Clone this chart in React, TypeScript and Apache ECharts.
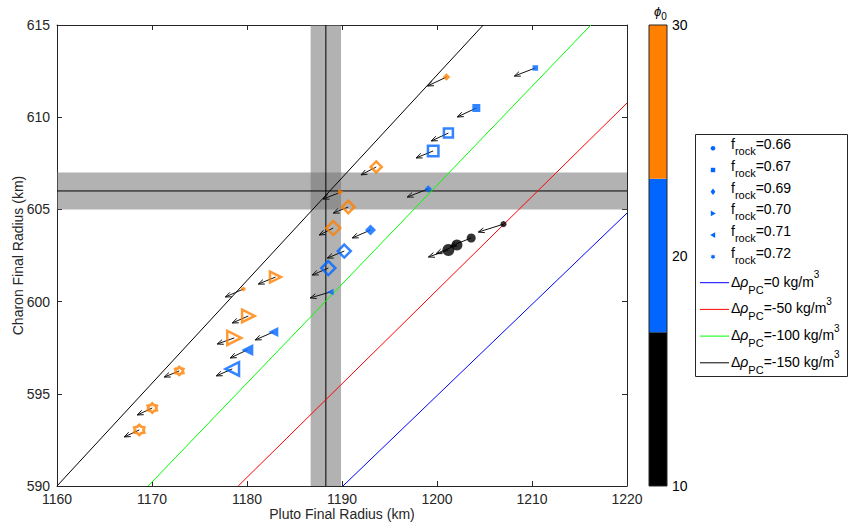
import React, { useEffect, useRef } from "react";
import * as echarts from "echarts";

// ---------- observations (Pluto / Charon radii with uncertainty) ----------
const plutoR = [1188.3];
const plutoErr = [1.6];
const charonR = [606.0];
const charonErr = [1.0];

// ---------- density-contrast lines ----------
const rhoLabels = ["0", "-50", "-100", "-150"];
const rhoColors = ["#0000ff", "#ff0000", "#00ff00", "#000000"];
const rhoX0 = [1190.1, 1179.08, 1169.6, 1160.0];
const rhoY0 = [590, 590, 590, 590];
const rhoX1 = [1220, 1220, 1216.2, 1204.87];
const rhoY1 = [604.8, 610.77, 615, 615];

// ---------- colour bar (phi0) ----------
const phiEdges = [10, 16.67, 23.33, 30];
const phiColors = ["#000000", "#0066ff", "#ff8000"];

// ---------- f_rock = 0.66 (circles) ----------
const c66X = [1207.0, 1203.6, 1202.1, 1201.2];
const c66Y = [604.2, 603.45, 603.07, 602.8];
const c66EX = [1204.35, 1201.4, 1199.9, 1199.1];
const c66EY = [603.77, 603.0, 602.6, 602.42];
const c66Phi = [10, 10, 10, 10];
const c66Size = [6, 9, 11, 12];
const c66Filled = [1, 1, 1, 1];

// ---------- f_rock = 0.67 (squares) ----------
const s67X = [1210.35, 1204.14, 1201.2, 1199.6];
const s67Y = [612.67, 610.5, 609.14, 608.17];
const s67EX = [1208.14, 1202.14, 1199.4, 1197.8];
const s67EY = [612.23, 610.01, 608.71, 607.79];
const s67Phi = [20, 20, 20, 20];
const s67Size = [5.5, 8, 9, 10.5];
const s67Filled = [1, 1, 0, 0];

// ---------- f_rock = 0.69 (diamonds) ----------
const d69X = [1201.0, 1193.6, 1190.66, 1189.08, 1199.08, 1193.0, 1190.24, 1188.56];
const d69Y = [612.18, 607.3, 605.13, 603.99, 606.11, 603.88, 602.74, 601.82];
const d69EX = [1199.0, 1192.0, 1189.08, 1187.6, 1196.87, 1191.08, 1188.45, 1186.87];
const d69EY = [611.69, 606.87, 604.8, 603.61, 605.67, 603.45, 602.36, 601.44];
const d69Phi = [30, 30, 30, 30, 20, 20, 20, 20];
const d69Size = [7.5, 11, 12.5, 14, 7.5, 11, 13, 14];
const d69Filled = [1, 0, 0, 0, 1, 1, 0, 0];

// ---------- f_rock = 0.70 (right triangles) ----------
const t70X = [1189.9, 1183.0, 1180.14, 1178.66];
const t70Y = [605.94, 601.33, 599.22, 598.03];
const t70EX = [1188.0, 1181.19, 1178.45, 1176.87];
const t70EY = [605.56, 600.95, 598.84, 597.7];
const t70Phi = [30, 30, 30, 30];
const t70Size = [6, 11, 12.5, 14];
const t70Filled = [1, 0, 0, 0];

// ---------- f_rock = 0.71 (left triangles) ----------
const t71X = [1188.77, 1182.77, 1180.03, 1178.45];
const t71Y = [600.52, 598.35, 597.38, 596.35];
const t71EX = [1186.66, 1180.87, 1178.24, 1176.77];
const t71EY = [600.2, 597.92, 596.94, 595.97];
const t71Phi = [20, 20, 20, 20];
const t71Size = [6.5, 10, 12, 13.5];
const t71Filled = [1, 1, 1, 0];

// ---------- f_rock = 0.72 (hexagrams) ----------
const h72X = [1179.61, 1172.87, 1170.03, 1168.66];
const h72Y = [600.68, 596.24, 594.23, 593.04];
const h72EX = [1177.72, 1171.29, 1168.45, 1167.08];
const h72EY = [600.25, 595.91, 593.85, 592.66];
const h72Phi = [30, 30, 30, 30];
const h72Size = [5, 8, 9, 10];
const h72Filled = [1, 0, 0, 0];

const frockLabels = ["0.66", "0.67", "0.69", "0.70", "0.71", "0.72"];

// ---------- helpers ----------
const FONT = "'Liberation Sans', Arial, Helvetica, sans-serif";
const AX = "#262626";

function starPts(r: number, cx: number, cy: number, inner = 1 / Math.sqrt(3)) {
  const pts: number[][] = [];
  for (let i = 0; i < 12; i++) {
    const a = ((-90 + i * 30) * Math.PI) / 180;
    const rr = i % 2 === 0 ? r : r * inner;
    pts.push([cx + rr * Math.cos(a), cy + rr * Math.sin(a)]);
  }
  return pts;
}
const hexPath =
  "path://M" + starPts(10, 10, 10, 0.72).map((p) => p.map((v) => v.toFixed(2)).join(",")).join("L") + "Z";
const rightTri = "path://M0,0L10,5L0,10Z";
const leftTri = "path://M10,0L0,5L10,10Z";

const groups = [
  { symbol: "circle", x: c66X, y: c66Y, ex: c66EX, ey: c66EY, phi: c66Phi, size: c66Size, filled: c66Filled, bw: 2.5 },
  { symbol: "rect", x: s67X, y: s67Y, ex: s67EX, ey: s67EY, phi: s67Phi, size: s67Size, filled: s67Filled, bw: 2.5 },
  { symbol: "diamond", x: d69X, y: d69Y, ex: d69EX, ey: d69EY, phi: d69Phi, size: d69Size, filled: d69Filled, bw: 2.5 },
  { symbol: rightTri, x: t70X, y: t70Y, ex: t70EX, ey: t70EY, phi: t70Phi, size: t70Size, filled: t70Filled, bw: 2.5 },
  { symbol: leftTri, x: t71X, y: t71Y, ex: t71EX, ey: t71EY, phi: t71Phi, size: t71Size, filled: t71Filled, bw: 2.5 },
  { symbol: hexPath, x: h72X, y: h72Y, ex: h72EX, ey: h72EY, phi: h72Phi, size: h72Size, filled: h72Filled, bw: 2.8 },
];

function phiColor(v: number) {
  for (let i = 0; i < phiColors.length; i++) if (v <= phiEdges[i + 1]) return phiColors[i];
  return phiColors[phiColors.length - 1];
}

let measureCtx: CanvasRenderingContext2D | null = null;
function tw(text: string, size: number, italic = false) {
  if (!measureCtx) measureCtx = document.createElement("canvas").getContext("2d");
  measureCtx!.font = `${italic ? "italic " : ""}${size}px ${FONT}`;
  return measureCtx!.measureText(text).width;
}
type Frag = { t: string; size: number; dy: number; italic?: boolean };
function frags(parts: Frag[], x0: number, cy: number) {
  let x = x0;
  const out: any[] = [];
  for (const p of parts) {
    out.push({
      type: "text",
      x,
      y: cy + p.dy,
      z: 100,
      style: {
        text: p.t,
        fontSize: p.size,
        fontFamily: FONT,
        fontStyle: p.italic ? "italic" : "normal",
        fill: "#000",
        align: "left",
        verticalAlign: "middle",
        textAlign: "left",
        textVerticalAlign: "middle",
      },
    });
    x += tw(p.t, p.size, p.italic);
  }
  return out;
}

function legendMarker(i: number, cx: number, cy: number) {
  const st = { fill: "#0066ff" };
  switch (i) {
    case 0:
      return { type: "circle", z: 100, shape: { cx, cy, r: 2.3 }, style: st };
    case 1:
      return { type: "rect", z: 100, shape: { x: cx - 2.2, y: cy - 2.2, width: 4.4, height: 4.4 }, style: st };
    case 2:
      return { type: "polygon", z: 100, shape: { points: [[cx, cy - 3.3], [cx + 2.4, cy], [cx, cy + 3.3], [cx - 2.4, cy]] }, style: st };
    case 3:
      return { type: "polygon", z: 100, shape: { points: [[cx - 2.2, cy - 2.8], [cx + 2.8, cy], [cx - 2.2, cy + 2.8]] }, style: st };
    case 4:
      return { type: "polygon", z: 100, shape: { points: [[cx + 2.2, cy - 2.8], [cx - 2.8, cy], [cx + 2.2, cy + 2.8]] }, style: st };
    default:
      return { type: "polygon", z: 100, shape: { points: starPts(2.6, cx, cy) }, style: st };
  }
}

function buildOption() {
  const axisCommon = {
    axisLine: { show: true, lineStyle: { color: AX, width: 1 } },
    axisTick: { show: true, inside: true, length: 5, lineStyle: { color: AX } },
    splitLine: { show: false },
  };
  const labelStyle = { fontSize: 14, color: AX, fontFamily: FONT };
  const plain = (v: number) => String(v);

  const series: any[] = [];

  // observational bands
  series.push({
    type: "custom",
    xAxisIndex: 0,
    yAxisIndex: 0,
    z: 1,
    silent: true,
    data: plutoR.map((v, i) => [v, charonR[i], plutoErr[i], charonErr[i]]),
    renderItem: (params: any, api: any) => {
      const cs = params.coordSys;
      const xc = api.value(0), yc = api.value(1), ex = api.value(2), ey = api.value(3);
      const pL = api.coord([xc - ex, yc - ey]);
      const pR = api.coord([xc + ex, yc + ey]);
      const pc = api.coord([xc, yc]);
      const fill = "rgba(115,115,115,0.55)";
      return {
        type: "group",
        children: [
          { type: "rect", shape: { x: pL[0], y: cs.y, width: pR[0] - pL[0], height: cs.height }, style: { fill } },
          { type: "rect", shape: { x: cs.x, y: pR[1], width: cs.width, height: pL[1] - pR[1] }, style: { fill } },
          { type: "line", shape: { x1: pc[0], y1: cs.y, x2: pc[0], y2: cs.y + cs.height }, style: { stroke: "#000", lineWidth: 1 } },
          { type: "line", shape: { x1: cs.x, y1: pc[1], x2: cs.x + cs.width, y2: pc[1] }, style: { stroke: "#000", lineWidth: 1 } },
        ],
      };
    },
  });

  // density lines
  rhoLabels.forEach((lbl, i) => {
    series.push({
      type: "line",
      name: `Δρ_PC=${lbl} kg/m3`,
      xAxisIndex: 0,
      yAxisIndex: 0,
      z: 2,
      silent: true,
      symbol: "none",
      showSymbol: false,
      lineStyle: { color: rhoColors[i], width: 1 },
      data: [
        [rhoX0[i], rhoY0[i]],
        [rhoX1[i], rhoY1[i]],
      ],
    });
  });

  // arrows
  const arrowData: number[][] = [];
  groups.forEach((g) => g.x.forEach((x, i) => arrowData.push([x, g.y[i], g.ex[i], g.ey[i]])));
  series.push({
    type: "custom",
    xAxisIndex: 0,
    yAxisIndex: 0,
    z: 3,
    silent: true,
    data: arrowData,
    renderItem: (_p: any, api: any) => {
      const p0 = api.coord([api.value(0), api.value(1)]);
      const p1 = api.coord([api.value(2), api.value(3)]);
      const ang = Math.atan2(p1[1] - p0[1], p1[0] - p0[0]);
      const L = 6.5, h = (22 * Math.PI) / 180;
      const a1 = [p1[0] - L * Math.cos(ang - h), p1[1] - L * Math.sin(ang - h)];
      const a2 = [p1[0] - L * Math.cos(ang + h), p1[1] - L * Math.sin(ang + h)];
      const s = { stroke: "#111", lineWidth: 1, fill: "none" };
      return {
        type: "group",
        children: [
          { type: "line", shape: { x1: p0[0], y1: p0[1], x2: p1[0], y2: p1[1] }, style: s },
          { type: "polyline", shape: { points: [a1, p1, a2] }, style: s },
        ],
      };
    },
  });

  // markers
  groups.forEach((g, gi) => {
    series.push({
      type: "scatter",
      name: `f_rock=${frockLabels[gi]}`,
      xAxisIndex: 0,
      yAxisIndex: 0,
      z: 4,
      symbol: g.symbol,
      data: g.x.map((x, i) => {
        const c = phiColor(g.phi[i]);
        const f = g.filled[i] === 1;
        return {
          value: [x, g.y[i]],
          symbolSize: g.size[i],
          itemStyle: {
            color: f ? c : "rgba(0,0,0,0)",
            borderColor: c,
            borderWidth: f ? 0 : g.bw,
          },
        };
      }),
    });
  });

  // colour bar
  const cbData: number[][] = phiColors.map((_, i) => [phiEdges[i], phiEdges[i + 1], i]);
  cbData.push([phiEdges[0], phiEdges[phiEdges.length - 1], -1]);
  series.push({
    type: "custom",
    xAxisIndex: 2,
    yAxisIndex: 2,
    z: 2,
    silent: true,
    data: cbData,
    renderItem: (_p: any, api: any) => {
      const lo = api.value(0), hi = api.value(1), ci = api.value(2);
      const a = api.coord([0, lo]);
      const b = api.coord([1, hi]);
      const shape = { x: a[0], y: b[1], width: b[0] - a[0], height: a[1] - b[1] };
      if (ci < 0) return { type: "rect", z2: 10, shape, style: { fill: "none", stroke: AX, lineWidth: 1 } };
      return { type: "rect", shape, style: { fill: phiColors[ci] } };
    },
  });

  // legend (drawn)
  const g: any[] = [];
  g.push({
    type: "rect",
    z: 99,
    shape: { x: 695.5, y: 134.5, width: 152, height: 242 },
    style: { fill: "#fff", stroke: AX, lineWidth: 1 },
  });
  const rowY0 = 148.3, rowStep = 21.7;
  frockLabels.forEach((lbl, i) => {
    const cy = rowY0 + i * rowStep;
    g.push(legendMarker(i, 713, cy));
    g.push(
      ...frags(
        [
          { t: "f", size: 14, dy: -4 },
          { t: "rock", size: 11, dy: 3 },
          { t: "=" + lbl, size: 14, dy: -4 },
        ],
        731,
        cy
      )
    );
  });
  const lineY0 = 282.7, lineStep = 26.7;
  rhoLabels.forEach((lbl, i) => {
    const cy = lineY0 + i * lineStep;
    g.push({ type: "line", z: 100, shape: { x1: 700, y1: cy, x2: 729, y2: cy }, style: { stroke: rhoColors[i], lineWidth: 1 } });
    g.push(
      ...frags(
        [
          { t: "Δ", size: 14, dy: -1 },
          { t: "ρ", size: 14, dy: -1, italic: true },
          { t: "PC", size: 11, dy: 7 },
          { t: `=${lbl} kg/m`, size: 14, dy: -1 },
          { t: "3", size: 10, dy: -8 },
        ],
        731,
        cy
      )
    );
  });
  // colour bar title
  g.push(
    ...frags(
      [
        { t: "ϕ", size: 13, dy: 0, italic: true },
        { t: "0", size: 10, dy: 5 },
      ],
      654,
      11
    )
  );

  return {
    animation: false,
    backgroundColor: "#fff",
    textStyle: { fontFamily: FONT },
    grid: [
      { left: 57, top: 25, width: 570, height: 461, outerBoundsMode: "none", containLabel: false },
      { left: 649, top: 25, width: 18, height: 461, outerBoundsMode: "none", containLabel: false },
    ],
    xAxis: [
      {
        type: "value",
        gridIndex: 0,
        min: 1160,
        max: 1220,
        interval: 10,
        ...axisCommon,
        axisLabel: { ...labelStyle, margin: 6, formatter: plain },
        name: "Pluto Final Radius (km)",
        nameLocation: "middle",
        nameGap: 21,
        nameMoveOverlap: false,
        nameTextStyle: { ...labelStyle },
      },
      {
        type: "value",
        gridIndex: 0,
        position: "top",
        min: 1160,
        max: 1220,
        interval: 10,
        ...axisCommon,
        axisLabel: { show: false },
      },
      { type: "value", gridIndex: 1, min: 0, max: 1, show: false },
    ],
    yAxis: [
      {
        type: "value",
        gridIndex: 0,
        min: 590,
        max: 615,
        interval: 5,
        ...axisCommon,
        axisLabel: { ...labelStyle, margin: 7, formatter: plain },
        name: "Charon Final Radius (km)",
        nameLocation: "middle",
        nameGap: 32,
        nameMoveOverlap: false,
        nameTextStyle: { ...labelStyle },
      },
      {
        type: "value",
        gridIndex: 0,
        position: "right",
        min: 590,
        max: 615,
        interval: 5,
        ...axisCommon,
        axisLabel: { show: false },
      },
      {
        type: "value",
        gridIndex: 1,
        position: "right",
        min: 10,
        max: 30,
        interval: 10,
        axisLine: { show: false },
        axisTick: { show: false },
        splitLine: { show: false },
        axisLabel: { ...labelStyle, color: "#000", margin: 5, formatter: plain },
      },
    ],
    series,
    graphic: g,
  };
}

export default function App() {
  const ref = useRef<HTMLDivElement>(null);
  useEffect(() => {
    if (!ref.current) return;
    const chart = echarts.init(ref.current, null, { renderer: "svg" });
    chart.setOption(buildOption() as any);
    return () => chart.dispose();
  }, []);
  return (
    <div
      ref={ref}
      style={{ position: "absolute", left: 0, top: 0, width: 849, height: 527, background: "#fff" }}
    />
  );
}
